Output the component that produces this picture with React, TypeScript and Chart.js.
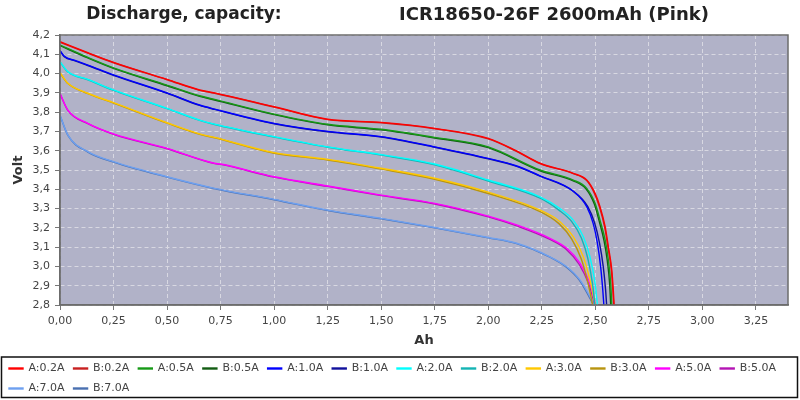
import React, { useEffect, useRef } from 'react';
import { Chart, registerables } from 'chart.js';

Chart.register(...registerables);

// axis ticks
const xTicks = [0, 0.25, 0.5, 0.75, 1.0, 1.25, 1.5, 1.75, 2.0, 2.25, 2.5, 2.75, 3.0, 3.25];
const yTicks = [2.8, 2.9, 3.0, 3.1, 3.2, 3.3, 3.4, 3.5, 3.6, 3.7, 3.8, 3.9, 4.0, 4.1, 4.2];

const seriesLabels = [
    'A:0.2A', 'B:0.2A', 'A:0.5A', 'B:0.5A', 'A:1.0A', 'B:1.0A', 'A:2.0A',
    'B:2.0A', 'A:3.0A', 'B:3.0A', 'A:5.0A', 'B:5.0A', 'A:7.0A', 'B:7.0A',
];
const seriesColors = [
    '#ff0000', '#c82020', '#169a16', '#125c12', '#0000ff', '#10109c', '#00ffff',
    '#14b4b4', '#ffc800', '#b8940f', '#ff00ff', '#b414b4', '#6ea0f0', '#4a70b0',
];

// capacity (Ah) / voltage pairs
const capA02 = [0, 0.13, 0.25, 0.5, 0.652, 0.722, 1.0, 1.25, 1.5, 1.75, 2.0, 2.13, 2.242, 2.397, 2.46, 2.499, 2.522, 2.546, 2.561, 2.577, 2.584, 2.588];
const voltA02 = [4.165, 4.108, 4.058, 3.97, 3.915, 3.9, 3.828, 3.763, 3.747, 3.716, 3.664, 3.6, 3.535, 3.483, 3.448, 3.379, 3.31, 3.206, 3.102, 2.981, 2.877, 2.8];
const capB02 = [0, 0.13, 0.25, 0.5, 0.652, 0.722, 1.0, 1.25, 1.5, 1.75, 2.0, 2.13, 2.242, 2.397, 2.46, 2.497, 2.52, 2.544, 2.559, 2.575, 2.582, 2.586];
const voltB02 = [4.163, 4.106, 4.056, 3.968, 3.913, 3.898, 3.826, 3.761, 3.745, 3.714, 3.661, 3.598, 3.533, 3.481, 3.445, 3.376, 3.306, 3.202, 3.1, 2.98, 2.876, 2.8];

const capA05 = [0, 0.13, 0.25, 0.5, 0.652, 0.722, 1.0, 1.25, 1.5, 1.75, 2.0, 2.242, 2.397, 2.46, 2.499, 2.522, 2.546, 2.561, 2.572, 2.577];
const voltA05 = [4.148, 4.084, 4.03, 3.94, 3.885, 3.866, 3.79, 3.737, 3.711, 3.669, 3.62, 3.5, 3.448, 3.405, 3.327, 3.24, 3.137, 3.033, 2.912, 2.8];
const capB05 = [0, 0.13, 0.25, 0.5, 0.652, 0.722, 1.0, 1.25, 1.5, 1.75, 2.0, 2.242, 2.397, 2.458, 2.496, 2.518, 2.541, 2.556, 2.567, 2.572];
const voltB05 = [4.145, 4.081, 4.027, 3.937, 3.882, 3.863, 3.787, 3.734, 3.708, 3.666, 3.616, 3.496, 3.444, 3.4, 3.322, 3.236, 3.132, 3.03, 2.91, 2.8];

const capA10 = [0, 0.02, 0.07, 0.13, 0.25, 0.5, 0.652, 0.722, 1.0, 1.25, 1.5, 1.75, 2.0, 2.13, 2.242, 2.397, 2.46, 2.49, 2.51, 2.525, 2.535, 2.54];
const voltA10 = [4.119, 4.09, 4.068, 4.044, 3.993, 3.9, 3.837, 3.816, 3.742, 3.7, 3.673, 3.62, 3.56, 3.522, 3.47, 3.39, 3.31, 3.223, 3.12, 2.998, 2.877, 2.8];
const capB10 = [0, 0.02, 0.07, 0.13, 0.25, 0.5, 0.652, 0.722, 1.0, 1.25, 1.5, 1.75, 2.0, 2.13, 2.242, 2.397, 2.465, 2.497, 2.52, 2.537, 2.548, 2.553];
const voltB10 = [4.117, 4.088, 4.066, 4.042, 3.991, 3.898, 3.835, 3.814, 3.74, 3.698, 3.671, 3.618, 3.558, 3.52, 3.468, 3.39, 3.31, 3.225, 3.12, 3.0, 2.88, 2.8];

const capA20 = [0, 0.037, 0.13, 0.25, 0.5, 0.652, 0.722, 1.0, 1.25, 1.5, 1.75, 2.0, 2.242, 2.335, 2.397, 2.444, 2.475, 2.499, 2.51];
const voltA20 = [4.062, 4.01, 3.97, 3.915, 3.82, 3.759, 3.738, 3.673, 3.62, 3.58, 3.531, 3.448, 3.361, 3.3, 3.24, 3.154, 3.05, 2.912, 2.8];
const capB20 = [0, 0.037, 0.13, 0.25, 0.5, 0.652, 0.722, 1.0, 1.25, 1.5, 1.75, 2.0, 2.242, 2.33, 2.39, 2.435, 2.465, 2.487, 2.498];
const voltB20 = [4.06, 4.008, 3.968, 3.913, 3.818, 3.757, 3.736, 3.671, 3.618, 3.577, 3.527, 3.443, 3.354, 3.292, 3.232, 3.147, 3.042, 2.91, 2.8];

const capA30 = [0, 0.037, 0.13, 0.25, 0.5, 0.652, 0.722, 1.0, 1.25, 1.5, 1.75, 2.0, 2.242, 2.335, 2.397, 2.444, 2.475, 2.5];
const voltA30 = [4.005, 3.95, 3.898, 3.849, 3.745, 3.687, 3.669, 3.59, 3.555, 3.509, 3.457, 3.385, 3.292, 3.232, 3.154, 3.05, 2.929, 2.8];
const capB30 = [0, 0.037, 0.13, 0.25, 0.5, 0.652, 0.722, 1.0, 1.25, 1.5, 1.75, 2.0, 2.242, 2.33, 2.39, 2.435, 2.465, 2.488];
const voltB30 = [4.003, 3.948, 3.896, 3.847, 3.743, 3.685, 3.667, 3.587, 3.552, 3.505, 3.452, 3.378, 3.284, 3.222, 3.142, 3.037, 2.917, 2.8];

const capA50 = [0, 0.037, 0.13, 0.25, 0.5, 0.722, 0.75, 1.0, 1.25, 1.5, 1.75, 2.0, 2.133, 2.288, 2.367, 2.429, 2.475, 2.502];
const voltA50 = [3.897, 3.81, 3.742, 3.687, 3.612, 3.535, 3.531, 3.465, 3.417, 3.37, 3.327, 3.261, 3.215, 3.146, 3.094, 3.016, 2.912, 2.8];
const capB50 = [0, 0.037, 0.13, 0.25, 0.5, 0.722, 0.75, 1.0, 1.25, 1.5, 1.75, 2.0, 2.133, 2.288, 2.365, 2.425, 2.47, 2.498];
const voltB50 = [3.895, 3.808, 3.74, 3.685, 3.61, 3.533, 3.529, 3.463, 3.415, 3.367, 3.324, 3.257, 3.21, 3.14, 3.088, 3.01, 2.907, 2.8];

const capA70 = [0, 0.037, 0.13, 0.25, 0.5, 0.722, 1.0, 1.25, 1.5, 1.75, 2.0, 2.133, 2.288, 2.367, 2.429, 2.475, 2.494];
const voltA70 = [3.785, 3.681, 3.595, 3.543, 3.465, 3.405, 3.348, 3.292, 3.249, 3.202, 3.15, 3.12, 3.05, 2.998, 2.929, 2.843, 2.8];
const capB70 = [0, 0.037, 0.13, 0.25, 0.5, 0.722, 1.0, 1.25, 1.5, 1.75, 2.0, 2.133, 2.288, 2.365, 2.427, 2.472, 2.492];
const voltB70 = [3.783, 3.679, 3.593, 3.541, 3.463, 3.403, 3.346, 3.29, 3.247, 3.2, 3.148, 3.118, 3.048, 2.996, 2.927, 2.841, 2.8];

const seriesCaps = [capA02, capB02, capA05, capB05, capA10, capB10, capA20, capB20, capA30, capB30, capA50, capB50, capA70, capB70];
const seriesVolts = [voltA02, voltB02, voltA05, voltB05, voltA10, voltB10, voltA20, voltB20, voltA30, voltB30, voltA50, voltB50, voltA70, voltB70];

const titleLeft = 'Discharge, capacity:';
const titleRight = 'ICR18650-26F 2600mAh (Pink)';

const FONT = "'DejaVu Sans', sans-serif";
const commaNum = (v: number, digits: number) => v.toFixed(digits).replace('.', ',');

// plot background, frame, title and legend border
const decorPlugin = {
    id: 'decor',
    beforeDraw(chart: any) {
        const { ctx, chartArea: a } = chart;
        ctx.save();
        ctx.fillStyle = '#b1b2c8';
        ctx.fillRect(a.left, a.top, a.right - a.left, a.bottom - a.top);
        ctx.restore();
    },
    afterDraw(chart: any) {
        const { ctx, chartArea: a, legend } = chart;
        ctx.save();
        ctx.strokeStyle = '#6c6c6c';
        ctx.lineWidth = 1.5;
        ctx.strokeRect(a.left, a.top, a.right - a.left, a.bottom - a.top);

        ctx.fillStyle = '#222';
        ctx.textAlign = 'center';
        ctx.textBaseline = 'middle';
        ctx.font = `bold 17px ${FONT}`;
        ctx.fillText(titleLeft, 184, 15);
        ctx.font = `bold 18px ${FONT}`;
        ctx.fillText(titleRight, 554, 15);

        if (legend) {
            ctx.strokeStyle = '#111';
            ctx.lineWidth = 1.5;
            ctx.strokeRect(1.5, legend.top + 3, 796, 40.5);
        }
        ctx.restore();
    },
};

const DischargeChart: React.FC = () => {
    const ref = useRef<HTMLCanvasElement>(null);
    const chartRef = useRef<Chart | null>(null);

    useEffect(() => {
        if (!ref.current) return;

        const datasets = seriesLabels.map((label, i) => ({
            label,
            data: seriesCaps[i].map((x, j) => ({ x, y: seriesVolts[i][j] })),
            borderColor: seriesColors[i],
            backgroundColor: seriesColors[i],
            borderWidth: 1.4,
            pointRadius: 0,
            cubicInterpolationMode: 'monotone' as const,
        }));

        if (chartRef.current) {
            chartRef.current.destroy();
        }

        chartRef.current = new Chart(ref.current, {
            type: 'line',
            data: { datasets },
            plugins: [decorPlugin],
            options: {
                responsive: false,
                animation: false,
                layout: { padding: { top: 35, right: 12, left: 0, bottom: 0 } },
                scales: {
                    x: {
                        type: 'linear',
                        min: 0,
                        max: 3.4,
                        afterBuildTicks: (s: any) => { s.ticks = xTicks.map(value => ({ value })); },
                        afterFit: (s: any) => { s.height = 49; },
                        ticks: {
                            color: '#444',
                            font: { family: FONT, size: 11 },
                            padding: 5,
                            maxRotation: 0,
                            callback: (v: any) => commaNum(Number(v), 2),
                        },
                        grid: { color: '#d8d8e2', tickLength: 5, tickColor: '#777' },
                        border: { color: '#6c6c6c', width: 1.5, dash: [4, 3] },
                        title: {
                            display: true,
                            text: 'Ah',
                            color: '#333',
                            font: { family: FONT, size: 13, weight: 'bold' },
                            padding: { top: 0, bottom: 6 },
                        },
                    },
                    y: {
                        min: 2.8,
                        max: 4.2,
                        afterBuildTicks: (s: any) => { s.ticks = yTicks.map(value => ({ value })); },
                        afterFit: (s: any) => { s.width = 60; },
                        ticks: {
                            color: '#444',
                            font: { family: FONT, size: 11 },
                            padding: 5,
                            callback: (v: any) => commaNum(Number(v), 1),
                        },
                        grid: { color: '#d8d8e2', tickLength: 5, tickColor: '#777' },
                        border: { color: '#6c6c6c', width: 1.5, dash: [4, 3] },
                        title: {
                            display: true,
                            text: 'Volt',
                            color: '#333',
                            font: { family: FONT, size: 13, weight: 'bold' },
                            padding: { top: 11, bottom: 0 },
                        },
                    },
                },
                plugins: {
                    legend: {
                        position: 'bottom',
                        align: 'start',
                        maxHeight: 46,
                        labels: {
                            color: '#444',
                            font: { family: FONT, size: 11 },
                            boxWidth: 14,
                            boxHeight: 1,
                            padding: 9,
                        },
                    },
                    tooltip: { enabled: false },
                },
            },
        });

        return () => {
            if (chartRef.current) {
                chartRef.current.destroy();
                chartRef.current = null;
            }
        };
    }, []);

    return (
        <div style={{ position: 'absolute', left: 0, top: 0, width: 800, height: 400, background: '#fff' }}>
            <canvas ref={ref} width={800} height={400}></canvas>
        </div>
    );
};

export default function App() {
    return <DischargeChart />;
}
